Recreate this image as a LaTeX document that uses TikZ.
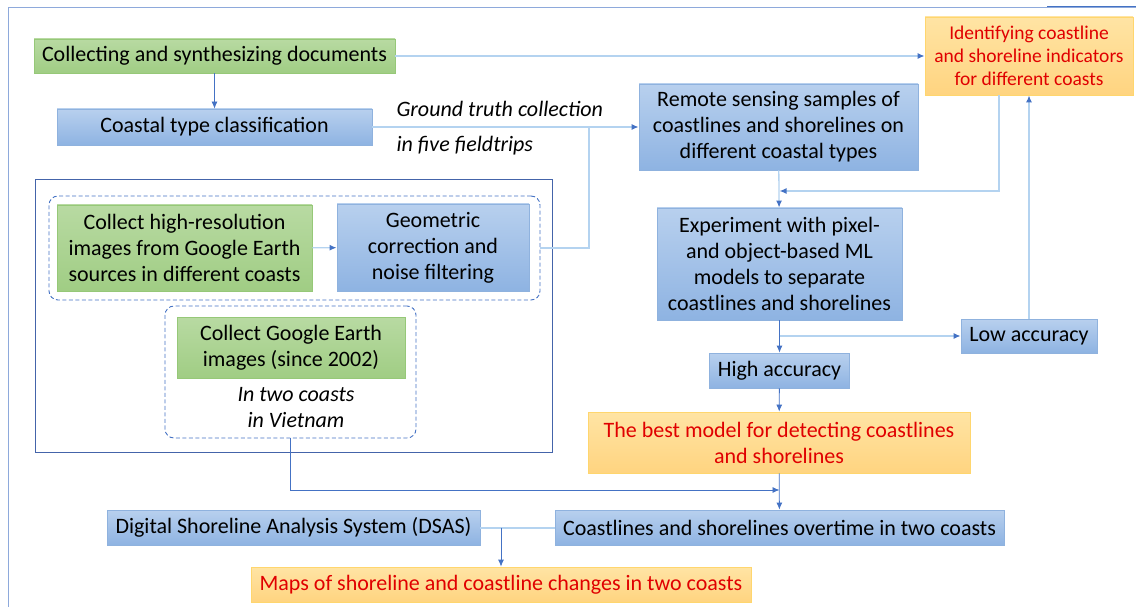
\documentclass[tikz,border=0pt]{standalone}
\usepackage{fontspec}
\setmainfont{Carlito}
\usetikzlibrary{arrows.meta}

\definecolor{linkblue}{HTML}{4472C4}
\definecolor{softblue}{HTML}{B4D3F0}
\definecolor{framegray}{HTML}{8EA9DB}
\definecolor{redtext}{HTML}{E00000}

\tikzset{
  txt/.style={font=\fontsize{22}{26}\selectfont},
  note/.style={font=\fontsize{22}{26}\selectfont\itshape},
  basebox/.style={txt, align=center, inner sep=0pt, line width=0.8pt},
  bluebox/.style={basebox, draw={rgb,255:red,143;green,178;blue,222}, top color={rgb,255:red,184;green,208;blue,238}, bottom color={rgb,255:red,142;green,179;blue,226}},
  greenbox/.style={basebox, draw={rgb,255:red,150;green,200;blue,120}, top color={rgb,255:red,184;green,218;blue,162}, bottom color={rgb,255:red,160;green,205;blue,132}},
  orangebox/.style={basebox, text=redtext, draw={rgb,255:red,255;green,214;blue,110}, top color={rgb,255:red,255;green,228;blue,164}, bottom color={rgb,255:red,255;green,212;blue,128}},
  groupbox/.style={draw=linkblue, dash pattern=on 4pt off 2.5pt, line width=0.9pt, rounded corners=9pt, inner sep=0pt},
  link/.style={draw=linkblue, line width=0.8pt},
  softlink/.style={draw=softblue, line width=1.3pt},
  tip/.style={-{Latex[length=7pt,width=6pt,color=linkblue]}}
}

\begin{document}
\begin{tikzpicture}[x=1pt,y=-1pt]
  \useasboundingbox (0,0) rectangle (1136,607);
  % frame
  \draw[framegray, line width=0.8pt] (8,607) -- (8,7) -- (1136,7);
  \draw[linkblue, line width=1.2pt] (1047,6.5) -- (1136,6.5);

  \node[greenbox, minimum width=361, minimum height=34] (docs) at (214.5,56) {Collecting and synthesizing documents};
  \node[bluebox, minimum width=315, minimum height=36] (classify) at (214.5,127) {Coastal type classification};
  \node[note, anchor=west] (truth) at (393,109) {Ground truth collection};
  \node[note, anchor=west] (trips) at (393,146) {in five fieldtrips};
  \node[bluebox, minimum width=279, minimum height=86] (remote) at (778.5,127) {Remote sensing samples of\\coastlines and shorelines on\\different coastal types};
  \node[orangebox, font=\fontsize{19.5}{23}\selectfont, minimum width=208, minimum height=78] (indicators) at (1029,56) {Identifying coastline\\and shoreline indicators\\for different coasts};

  % image collection part
  \node[draw={rgb,255:red,68;green,100;blue,170}, line width=1pt, minimum width=517, minimum height=272, inner sep=0pt] (imgarea) at (293.5,316) {};
  \node[groupbox, minimum width=491, minimum height=104] (group1) at (294.5,248) {};
  \node[greenbox, minimum width=255, minimum height=86] (hires) at (184.5,248) {Collect high-resolution\\images from Google Earth\\sources in different coasts};
  \node[bluebox, minimum width=192, minimum height=87] (geomcorr) at (433,247.5) {Geometric\\correction and\\noise filtering};
  \node[groupbox, minimum width=251, minimum height=132] (group2) at (290.5,372) {};
  \node[greenbox, minimum width=228, minimum height=61] (gecollect) at (291,347.5) {Collect Google Earth\\images (since 2002)};
  \node[note, align=center] (vietnam) at (296,408) {In two coasts\\in Vietnam};

  \node[bluebox, minimum width=245, minimum height=112] (experiment) at (779.5,264) {Experiment with pixel-\\and object-based ML\\models to separate\\coastlines and shorelines};
  \node[bluebox, minimum width=136, minimum height=34] (low) at (1029,336) {Low accuracy};
  \node[bluebox, minimum width=140, minimum height=35] (high) at (779.5,370.5) {High accuracy};
  \node[orangebox, minimum width=382, minimum height=61] (best) at (779,442.5) {The best model for detecting coastlines\\and shorelines};
  \node[bluebox, minimum width=449, minimum height=35] (overtime) at (779.5,527.5) {Coastlines and shorelines overtime in two coasts};
  \node[bluebox, minimum width=373, minimum height=35] (dsas) at (293.5,527.5) {Digital Shoreline Analysis System (DSAS)};
  \node[orangebox, minimum width=500, minimum height=35] (maps) at (501,584.5) {Maps of shoreline and coastline changes in two coasts};

  \coordinate (join) at (589,127);
  \coordinate (feedback) at (779.5,191);
  \coordinate (merge) at (779.5,490);

  % connectors
  \draw[softlink, tip] (docs) -- (indicators);
  \draw[link, tip] (docs) -- (classify);
  \draw[softlink, tip] (classify) -- (remote);
  \draw[softlink] (group1.east) -| (join);
  \draw[softlink, tip] (hires) -- (geomcorr);
  \draw[softlink, tip] (remote) -- (experiment);
  \draw[softlink, tip] ([xshift=-30pt]indicators.south) |- (feedback);
  \draw[link, tip] (experiment) -- (high);
  \draw[softlink, tip] (experiment.south |- low.west) -- (low);
  \draw[softlink, tip] (low) -- (indicators);
  \draw[link, tip] (high) -- (best);
  \draw[link, tip] (group2.south) |- (merge);
  \draw[link, tip] (best) -- (overtime);
  \draw[softlink, line width=2pt] (dsas) -- (overtime);
  \draw[link, tip] (maps.north |- dsas.east) -- (maps);
\end{tikzpicture}
\end{document}
